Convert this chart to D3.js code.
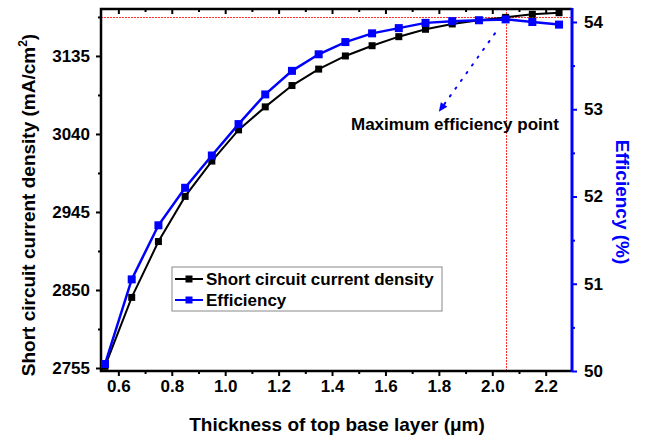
<!doctype html>
<html>
<head>
<meta charset="utf-8">
<script src="https://d3js.org/d3.v7.min.js"></script>
<style>
  body { margin: 0; background: #fff; }
  svg text { font-family: "Liberation Sans", Arial, sans-serif; font-weight: bold; }
</style>
</head>
<body>
<div class="graph"></div>
<script>
// thickness of top base layer (um)
var thickness = [0.55, 0.65, 0.75, 0.85, 0.95, 1.05, 1.15, 1.25, 1.35, 1.45, 1.55, 1.65, 1.75, 1.85, 1.95, 2.05, 2.15, 2.25];
// short circuit current density (mA/cm2)
var jsc = [2757, 2841, 2909, 2964, 3007, 3045, 3073, 3099, 3119, 3135, 3147.5, 3158.5, 3167.5, 3174, 3178.5, 3182, 3185.8, 3187.7];
// efficiency (%)
var efficiency = [50.08, 51.05, 51.67, 52.10, 52.47, 52.83, 53.17, 53.44, 53.63, 53.77, 53.87, 53.93, 53.99, 54.01, 54.02, 54.03, 54.00, 53.97];

var xTicks = [0.6, 0.8, 1.0, 1.2, 1.4, 1.6, 1.8, 2.0, 2.2];
var xMinor = [0.7, 0.9, 1.1, 1.3, 1.5, 1.7, 1.9, 2.1];
var jTicks = [2755, 2850, 2945, 3040, 3135];
var jMinor = [2802.5, 2897.5, 2992.5, 3087.5, 3182.5];
var eTicks = [50, 51, 52, 53, 54];
var eMinor = [50.5, 51.5, 52.5, 53.5];

var maxPoint = 2.05;
var arrowFrom = [2.01, 53.87];
var arrowTo = [1.80, 52.97];
var noteAt = [1.86, 52.76];

var width = 647, height = 438;
var mLeft = 101, mRight = 572, mTop = 9, mBottom = 371;

var svg = d3.select('.graph').append('svg')
  .attr('width', width)
  .attr('height', height);

var x = d3.scaleLinear().domain([0.535, 2.2985]).range([mLeft, mRight]);
var yJ = d3.scaleLinear().domain([2751.35, 3192.2]).range([mBottom, mTop]);
var yE = d3.scaleLinear().domain([50, 54.149]).range([mBottom, mTop]);

// red crosshair at maximum efficiency point
var jAtMax = jsc[thickness.indexOf(maxPoint)];
var hy = Math.round(yJ(jAtMax)) + 0.5, vx = Math.round(x(maxPoint)) + 0.5;
svg.append('line')
  .attr('x1', mLeft).attr('x2', mRight)
  .attr('y1', hy).attr('y2', hy)
  .attr('stroke', '#ff3030').attr('stroke-width', 1).attr('stroke-dasharray', '2,1')
  .attr('shape-rendering', 'crispEdges');
svg.append('line')
  .attr('x1', vx).attr('x2', vx)
  .attr('y1', mTop).attr('y2', mBottom)
  .attr('stroke', '#ff3030').attr('stroke-width', 1).attr('stroke-dasharray', '2,1')
  .attr('shape-rendering', 'crispEdges');

function styleAxis(g, color, w) {
  g.select('.domain').remove();
  g.selectAll('line').attr('stroke', color).attr('stroke-width', w);
  g.selectAll('text').attr('fill', '#000').style('font-size', '17px');
}

// bottom axis
svg.append('g').attr('transform', 'translate(0,' + mBottom + ')')
  .call(d3.axisBottom(x).tickValues(xTicks).tickSize(5).tickPadding(4).tickFormat(d3.format('.1f')))
  .call(styleAxis, '#000', 2);
svg.append('g').attr('transform', 'translate(0,' + mBottom + ')')
  .call(d3.axisBottom(x).tickValues(xMinor).tickSize(3).tickFormat(''))
  .call(styleAxis, '#000', 2);
// top axis (inward ticks)
svg.append('g').attr('transform', 'translate(0,' + mTop + ')')
  .call(d3.axisTop(x).tickValues(xTicks).tickSize(-5).tickFormat(''))
  .call(styleAxis, '#000', 2);
svg.append('g').attr('transform', 'translate(0,' + mTop + ')')
  .call(d3.axisTop(x).tickValues(xMinor).tickSize(-3).tickFormat(''))
  .call(styleAxis, '#000', 2);
// left axis
svg.append('g').attr('transform', 'translate(' + mLeft + ',0)')
  .call(d3.axisLeft(yJ).tickValues(jTicks).tickSize(5).tickPadding(6).tickFormat(d3.format('d')))
  .call(styleAxis, '#000', 2);
svg.append('g').attr('transform', 'translate(' + mLeft + ',0)')
  .call(d3.axisLeft(yJ).tickValues(jMinor).tickSize(3).tickFormat(''))
  .call(styleAxis, '#000', 2);
// right axis
svg.append('g').attr('transform', 'translate(' + mRight + ',0)')
  .call(d3.axisRight(yE).tickValues(eTicks).tickSize(5).tickPadding(7).tickFormat(d3.format('d')))
  .call(styleAxis, '#0000ff', 2);
svg.append('g').attr('transform', 'translate(' + mRight + ',0)')
  .call(d3.axisRight(yE).tickValues(eMinor).tickSize(3).tickFormat(''))
  .call(styleAxis, '#0000ff', 2);

// frame
svg.append('path')
  .attr('d', 'M' + mRight + ',' + mTop + 'H' + mLeft + 'V' + mBottom + 'H' + mRight)
  .attr('fill', 'none').attr('stroke', '#000').attr('stroke-width', 2.5);
svg.append('line')
  .attr('x1', mRight).attr('x2', mRight).attr('y1', mTop - 1).attr('y2', mBottom + 1)
  .attr('stroke', '#0000ff').attr('stroke-width', 3);

// series
var jLine = d3.line().x(function(d, i) { return x(thickness[i]); }).y(function(d) { return yJ(d); });
var eLine = d3.line().x(function(d, i) { return x(thickness[i]); }).y(function(d) { return yE(d); });

svg.append('path').datum(jsc).attr('d', jLine)
  .attr('fill', 'none').attr('stroke', '#000').attr('stroke-width', 2);
svg.selectAll('.jm').data(jsc).enter().append('rect').attr('class', 'jm')
  .attr('x', function(d, i) { return x(thickness[i]) - 3.5; })
  .attr('y', function(d) { return yJ(d) - 3.5; })
  .attr('width', 7).attr('height', 7).attr('fill', '#000');

svg.append('path').datum(efficiency).attr('d', eLine)
  .attr('fill', 'none').attr('stroke', '#0000ff').attr('stroke-width', 2.5);
svg.selectAll('.em').data(efficiency).enter().append('rect').attr('class', 'em')
  .attr('x', function(d, i) { return x(thickness[i]) - 4; })
  .attr('y', function(d) { return yE(d) - 4; })
  .attr('width', 8).attr('height', 8).attr('fill', '#0000ff');

// annotation arrow
var ax1 = x(arrowFrom[0]), ay1 = yE(arrowFrom[1]);
var ax2 = x(arrowTo[0]), ay2 = yE(arrowTo[1]);
var ang = Math.atan2(ay2 - ay1, ax2 - ax1);
svg.append('line')
  .attr('x1', ax1).attr('y1', ay1)
  .attr('x2', ax2 - 6 * Math.cos(ang)).attr('y2', ay2 - 6 * Math.sin(ang))
  .attr('stroke', '#0000ff').attr('stroke-width', 2)
  .attr('stroke-dasharray', '1.5,8').attr('stroke-linecap', 'round');
var head = [[0, 0], [-9, -4], [-9, 4]].map(function(p) {
  return [ax2 + p[0] * Math.cos(ang) - p[1] * Math.sin(ang), ay2 + p[0] * Math.sin(ang) + p[1] * Math.cos(ang)];
});
svg.append('path').attr('d', 'M' + head.join('L') + 'Z').attr('fill', '#0000ff');

svg.append('text')
  .attr('x', x(noteAt[0])).attr('y', yE(noteAt[1]))
  .attr('text-anchor', 'middle').style('font-size', '17px')
  .text('Maximum efficiency point');

// legend
var lg = svg.append('g').attr('transform', 'translate(172,267)');
lg.append('rect').attr('width', 270).attr('height', 44)
  .attr('fill', '#fff').attr('stroke', '#888').attr('stroke-width', 1);
var legendItems = [
  { name: 'Short circuit current density', color: '#000', size: 7 },
  { name: 'Efficiency', color: '#0000ff', size: 7 }
];
legendItems.forEach(function(d, i) {
  var cy = 12 + i * 21;
  lg.append('line').attr('x1', 3).attr('x2', 31).attr('y1', cy).attr('y2', cy)
    .attr('stroke', d.color).attr('stroke-width', 2);
  lg.append('rect').attr('x', 17 - d.size / 2).attr('y', cy - d.size / 2)
    .attr('width', d.size).attr('height', d.size).attr('fill', d.color);
  lg.append('text').attr('x', 34).attr('y', cy + 6).style('font-size', '17px').text(d.name);
});

// axis titles
svg.append('text')
  .attr('x', 337).attr('y', 431)
  .attr('text-anchor', 'middle').style('font-size', '19px')
  .text('Thickness of top base layer (\u03bcm)');

var lt = svg.append('text')
  .attr('transform', 'translate(35,205) rotate(-90)')
  .attr('text-anchor', 'middle').style('font-size', '19px');
lt.append('tspan').text('Short circuit current density (mA/cm');
lt.append('tspan').attr('dy', -8).style('font-size', '12px').text('2');
lt.append('tspan').attr('dy', 8).text(')');

svg.append('text')
  .attr('transform', 'translate(616,202) rotate(90)')
  .attr('text-anchor', 'middle').attr('fill', '#0000ff').style('font-size', '19px')
  .text('Efficiency (%)');
</script>
</body>
</html>
